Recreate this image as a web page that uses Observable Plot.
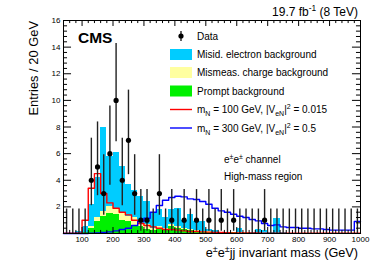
<!DOCTYPE html>
<html><head><meta charset="utf-8">
<script src="https://cdn.jsdelivr.net/npm/d3@7"></script>
<script src="https://cdn.jsdelivr.net/npm/@observablehq/plot@0.6"></script>
<style>body{margin:0;background:#fff} svg{display:block}</style>
</head><body><div id="chart"></div>
<script>
// bin lower edges (GeV), 20 GeV bins
const binLo = [40,60,80,100,120,140,160,180,200,220,240,260,280,300,320,340,360,380,400,420,440,460,480,500,520,540,560,580,600,620,640,660,680,700,720,740,760,780,800,820,840,860,880,900,920,940,960,980];
// observed entries
const dataN = [0,0,0,0,4,5,3,6,10,4,7,3,1,1,0,3,0,1,0,1,0,1,0,1,0,1,0,1,0,0,0,0,1,0,0,0,0,0,0,0,0,0,0,0,0,0,0,0];
const errLo = [0,0,0,0,2.09,2.84,1.37,3.62,6.89,2.09,4.42,1.37,0.17,0.17,0,1.37,0,0.17,0,0.17,0,0.17,0,0.17,0,0.17,0,0.17,0,0,0,0,0.17,0,0,0,0,0,0,0,0,0,0,0,0,0,0,0];
const errHi = [1.84,1.84,1.84,1.84,7.16,8.38,5.92,9.58,14.27,7.16,10.77,5.92,3.30,3.30,1.84,5.92,1.84,3.30,1.84,3.30,1.84,3.30,1.84,3.30,1.84,3.30,1.84,3.30,1.84,1.84,1.84,1.84,3.30,1.84,1.84,1.84,1.84,1.84,1.84,1.84,1.84,1.84,1.84,1.84,1.84,1.84,1.84,1.84];
// backgrounds (stacked: prompt bottom, mismeas middle, misid top)
const prompt  = [0,0,0,0.05,0.4,0.9,1.25,1.5,1.4,1.0,0.9,0.6,0.5,0.3,0.2,0.3,0.2,0.55,0.4,0.3,0.2,0.15,0.1,0.1,0.05,0.05,0.03,0.05,0.03,0.02,0.02,0.02,0.02,0.02,0.02,0.01,0.01,0.01,0.01,0.01,0.01,0.01,0.01,0.01,0.01,0.01,0.01,0.01];
const mismeas = [0,0,0,0.02,0.1,0.3,0.4,0.5,0.45,0.5,0.4,0.6,0.4,0.4,0.2,0.2,0.15,0.1,0.15,0.1,0.1,0.1,0.05,0.05,0.03,0.02,0.02,0.02,0.02,0.02,0.01,0.01,0.01,0.01,0.01,0.01,0,0,0,0,0,0,0,0,0,0,0,0];
const misid   = [0,0,0.15,0.43,1.7,3.0,6.35,3.8,4.25,3.5,2.4,2.0,1.9,1.7,1.2,1.3,0.85,1.15,1.35,0.6,1.1,0.65,0.75,0.15,0.12,0.03,0.05,0.03,0.35,0.06,0.02,0.27,0.17,0.07,1.07,0.08,0,0,0,0,0,0,0,0,0,0,0,0];
// signals
const sig100 = [0.02,0.02,0.05,1.0,3.4,4.5,3.0,2.3,1.9,1.6,1.4,1.0,0.75,0.6,0.5,0.4,0.3,0.3,0.25,0.2,0.15,0.15,0.12,0.1,0.08,0.07,0.06,0.05,0.05,0.04,0.04,0.04,0.03,0.03,0.03,0.03,0.02,0.02,0.02,0.02,0.02,0.02,0.02,0.02,0.02,0.02,0.02,0.02];
const sig300 = [0,0,0,0,0.02,0.05,0.08,0.12,0.2,0.3,0.4,0.6,0.9,1.15,1.6,2.1,2.5,2.7,2.8,2.75,2.6,2.55,2.4,2.2,1.9,1.7,1.6,1.45,1.3,1.2,1.05,0.95,0.75,0.6,0.65,0.5,0.45,0.45,0.4,0.4,0.35,0.35,0.3,0.25,0.25,0.25,0.25,0.9];
// axis ticks
const xTicks = [100,200,300,400,500,600,700,800,900,1000];
const yTicks = [2,4,6,8,10,12,14,16];
const binW = 20;

const seriesNames = ["Prompt background","Mismeas. charge background","Misid. electron background"];
const seriesColors = ["#00f000","#ffffa0","#00ccff"];
const comps = [prompt, mismeas, misid];
const rows = [];
binLo.forEach((lo,i)=>{ comps.forEach((arr,k)=>rows.push({lo, hi: lo+binW, series: seriesNames[k], v: arr[i]})); });
const dataRows = binLo.map((lo,i)=>({c: lo+binW/2, n: dataN[i], lo: errLo[i], hi: errHi[i]}));
const stepPts = arr => binLo.map((lo,i)=>({x: lo, y: arr[i]})).concat([{x: 1000, y: arr[arr.length-1]}]);

const xMinor = d3.range(40, 1001, 20).filter(v=>v%100!==0);
const yMinor = d3.range(0, 16.01, 0.4).filter(v=>Math.abs(v/2-Math.round(v/2))>1e-6);
const yMajor = [0].concat(yTicks);

const svg = Plot.plot({
  width: 374, height: 274,
  marginLeft: 63, marginRight: 14, marginTop: 20, marginBottom: 41,
  style: {fontFamily: "Liberation Sans, Arial, Helvetica, sans-serif", fontSize: "8px", background: "white", color: "black"},
  x: {domain: [40,1000], ticks: xTicks, tickFormat: d3.format("d"), tickSize: 0, tickPadding: 3, label: null},
  y: {domain: [0,16], ticks: yTicks, tickFormat: d3.format("d"), tickSize: 0, tickPadding: 3, label: null},
  color: {domain: seriesNames, range: seriesColors},
  marks: [
    Plot.rectY(rows, {x1: "lo", x2: "hi", y: "v", fill: "series", order: seriesNames, inset: 0, shapeRendering: "crispEdges"}),
    Plot.line(stepPts(sig100), {x: "x", y: "y", curve: "step-after", stroke: "#ff0000", strokeWidth: 1.4}),
    Plot.line(stepPts(sig300), {x: "x", y: "y", curve: "step-after", stroke: "#0000ff", strokeWidth: 1.4}),
    Plot.ruleX(dataRows, {x: "c", y1: "lo", y2: "hi", stroke: "#222", strokeWidth: 1.4}),
    Plot.dot(dataRows.filter(d=>d.n>0), {x: "c", y: "n", r: 2.6, fill: "black", stroke: "none"}),
    // inward ticks
    Plot.ruleX(xTicks, {x: d=>d, y1: 0, y2: 0.45, stroke: "black"}),
    Plot.ruleX(xMinor, {x: d=>d, y1: 0, y2: 0.23, stroke: "black"}),
    Plot.ruleX(xTicks, {x: d=>d, y1: 16, y2: 15.55, stroke: "black"}),
    Plot.ruleX(xMinor, {x: d=>d, y1: 16, y2: 15.77, stroke: "black"}),
    Plot.ruleY(yMajor, {y: d=>d, x1: 40, x2: 66, stroke: "black"}),
    Plot.ruleY(yMinor, {y: d=>d, x1: 40, x2: 53, stroke: "black"}),
    Plot.ruleY(yMajor, {y: d=>d, x1: 1000, x2: 974, stroke: "black"}),
    Plot.ruleY(yMinor, {y: d=>d, x1: 1000, x2: 987, stroke: "black"}),
    Plot.frame({stroke: "black"})
  ]
});

const s = d3.select(svg);
const FF = "Liberation Sans, Arial, Helvetica, sans-serif";
function rich(parent, x, y, segs, size, opts={}) {
  const t = parent.append("text").attr("x", x).attr("y", y).attr("font-size", size).attr("font-family", FF).attr("fill", "black")
    .attr("text-anchor", opts.anchor || "start");
  if (opts.weight) t.attr("font-weight", opts.weight);
  if (opts.transform) t.attr("transform", opts.transform).attr("x", 0).attr("y", 0);
  let shift = 0;
  segs.forEach(sg => {
    const [txt, mode] = Array.isArray(sg) ? sg : [sg, null];
    const target = mode === "sup" ? -0.4*size : mode === "sub" ? 0.3*size : 0;
    const ts = t.append("tspan").text(txt).attr("dy", target - shift);
    if (mode) ts.attr("font-size", size*0.7);
    shift = target;
  });
  return t;
}
const g = s.append("g").attr("text-anchor", "start");
// header
rich(g, 358, 16, ["19.7 fb", ["-1","sup"], " (8 TeV)"], 12, {anchor: "end"});
rich(g, 78, 43, ["CMS"], 15.5, {weight: "bold"});
// axis titles
rich(g, 358, 257, ["e", ["\u00b1","sup"], "e", ["\u00b1","sup"], "jj invariant mass (GeV)"], 12.7, {anchor: "end"});
rich(g, 0, 0, ["Entries / 20 GeV"], 12.9, {anchor: "end", transform: "translate(38,21) rotate(-90)"});
// channel text
rich(g, 224, 163, ["e", ["\u00b1","sup"], "e", ["\u00b1","sup"], " channel"], 10);
rich(g, 224, 179.5, ["High-mass region"], 10);
// legend
const lx = 170, lw = 22, tx = 197;
const ly = [36, 54.5, 72.5, 91, 109.5, 128];
g.append("line").attr("x1", lx+lw/2).attr("x2", lx+lw/2).attr("y1", ly[0]-5).attr("y2", ly[0]+5).attr("stroke", "#222").attr("stroke-width", 1.4);
g.append("circle").attr("cx", lx+lw/2).attr("cy", ly[0]).attr("r", 2.6).attr("fill", "black");
rich(g, tx, ly[0]+3.5, ["Data"], 10);
const legBoxes = [[seriesColors[2], seriesNames[2]], [seriesColors[1], seriesNames[1]], [seriesColors[0], seriesNames[0]]];
legBoxes.forEach(([c, name], k) => {
  g.append("rect").attr("x", lx).attr("y", ly[k+1]-5.5).attr("width", lw).attr("height", 11).attr("fill", c);
  rich(g, tx, ly[k+1]+3.5, [name], 10);
});
g.append("line").attr("x1", lx).attr("x2", lx+lw).attr("y1", ly[4]).attr("y2", ly[4]).attr("stroke", "#ff0000").attr("stroke-width", 1.4);
rich(g, tx, ly[4]+3.5, ["m", ["N","sub"], " = 100 GeV, |V", ["eN","sub"], "|", ["2","sup"], " = 0.015"], 10);
g.append("line").attr("x1", lx).attr("x2", lx+lw).attr("y1", ly[5]).attr("y2", ly[5]).attr("stroke", "#0000ff").attr("stroke-width", 1.4);
rich(g, tx, ly[5]+3.5, ["m", ["N","sub"], " = 300 GeV, |V", ["eN","sub"], "|", ["2","sup"], " = 0.5"], 10);

document.getElementById("chart").appendChild(svg);
</script>
</body></html>
